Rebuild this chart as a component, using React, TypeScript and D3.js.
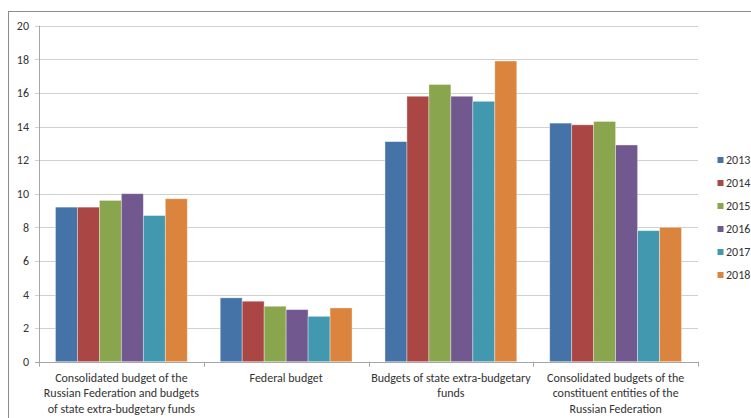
import React from "react";
import * as d3 from "d3";

const categories: string[][] = [
  ["Consolidated budget of the", "Russian Federation and budgets", "of state extra-budgetary funds"],
  ["Federal budget"],
  ["Budgets of state extra-budgetary", "funds"],
  ["Consolidated budgets of the", "constituent entities of the", "Russian Federation"],
];
const years = ["2013", "2014", "2015", "2016", "2017", "2018"];
const colors = ["#4572A7", "#AA4643", "#89A54E", "#71588F", "#4198AF", "#DB843D"];
// values[categoryIndex][yearIndex]
const values: number[][] = [
  [9.2, 9.2, 9.6, 10.0, 8.7, 9.7],
  [3.8, 3.6, 3.3, 3.1, 2.7, 3.2],
  [13.1, 15.8, 16.5, 15.8, 15.5, 17.9],
  [14.2, 14.1, 14.3, 12.9, 7.8, 8.0],
];
const yTicks = [0, 2, 4, 6, 8, 10, 12, 14, 16, 18, 20];

const W = 751;
const H = 418;
const plotLeft = 39;
const plotRight = 698;
const plotTop = 25.7;
const plotBottom = 361.7;
const font = "Carlito, Calibri, 'Open Sans', sans-serif";

export default function App() {
  const x0 = d3
    .scaleBand<number>()
    .domain(categories.map((_, i) => i))
    .range([plotLeft, plotRight])
    .paddingInner(0)
    .paddingOuter(0);
  const groupPad = (x0.bandwidth() * 1.5) / 7.5 / 2;
  const x1 = d3
    .scaleBand<number>()
    .domain(years.map((_, i) => i))
    .range([0, x0.bandwidth() - 2 * groupPad]);
  const y = d3.scaleLinear().domain([0, 20]).range([plotBottom, plotTop]);

  const boundaries = d3.range(categories.length + 1).map((i) =>
    i < categories.length ? (x0(i) as number) : plotRight
  );

  return (
    <svg
      width={W}
      height={H}
      style={{ position: "absolute", left: 0, top: 0, background: "#fff" }}
      fontFamily={font}
    >
      <rect x={8.5} y={11.5} width={W + 20} height={H + 20} fill="#fff" stroke="#8c8c8c" strokeWidth={1} />
      {/* gridlines */}
      {yTicks.map((t) => (
        <line
          key={"g" + t}
          x1={plotLeft - 4}
          x2={t === 0 ? plotLeft : plotRight}
          y1={Math.round(y(t)) + 0.5}
          y2={Math.round(y(t)) + 0.5}
          stroke="#d0d0d0"
          strokeWidth={1}
        />
      ))}
      {yTicks.map((t) => (
        <text
          key={"t" + t}
          x={29}
          y={y(t)}
          dy="0.35em"
          textAnchor="end"
          fontSize={12}
          fill="#333"
        >
          {t}
        </text>
      ))}
      {/* bars */}
      {values.map((row, ci) =>
        row.map((v, yi) => {
          const bx = (x0(ci) as number) + groupPad + (x1(yi) as number);
          return (
            <rect
              key={ci + "-" + yi}
              x={bx}
              y={y(v)}
              width={x1.bandwidth()}
              height={plotBottom - y(v)}
              fill={colors[yi]}
              stroke="rgba(255,255,255,0.45)"
              strokeWidth={0.8}
            />
          );
        })
      )}
      {/* axes */}
      <line x1={plotLeft + 0.5} x2={plotLeft + 0.5} y1={plotTop} y2={plotBottom + 0.5} stroke="#a6a6a6" />
      <line x1={plotLeft - 4} x2={plotRight} y1={Math.round(plotBottom) + 0.5} y2={Math.round(plotBottom) + 0.5} stroke="#a6a6a6" />
      {boundaries.map((bx, i) => (
        <line
          key={"bt" + i}
          x1={Math.round(bx) + 0.5}
          x2={Math.round(bx) + 0.5}
          y1={plotBottom}
          y2={plotBottom + 5}
          stroke="#a6a6a6"
        />
      ))}
      {/* category labels */}
      {categories.map((lines, ci) => (
        <text
          key={"c" + ci}
          x={(x0(ci) as number) + x0.bandwidth() / 2}
          y={381.5}
          textAnchor="middle"
          fontSize={12}
          fill="#333"
        >
          {lines.map((l, li) => (
            <tspan key={li} x={(x0(ci) as number) + x0.bandwidth() / 2} dy={li === 0 ? 0 : 15.6}>
              {l}
            </tspan>
          ))}
        </text>
      ))}
      {/* legend */}
      {years.map((yr, i) => (
        <g key={"l" + yr} transform={`translate(717.5, ${160 + i * 23})`}>
          <rect x={0} y={-3} width={6} height={6} fill={colors[i]} />
          <text x={8.5} y={0} dy="0.35em" fontSize={12} fill="#333">
            {yr}
          </text>
        </g>
      ))}
    </svg>
  );
}
